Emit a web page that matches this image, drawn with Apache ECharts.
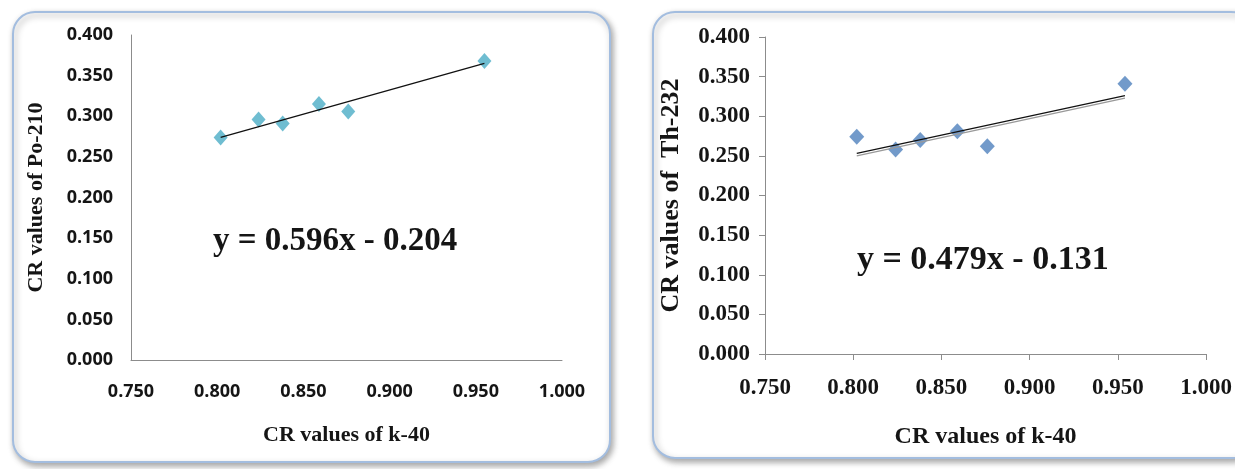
<!DOCTYPE html>
<html>
<head>
<meta charset="utf-8">
<script src="https://cdn.jsdelivr.net/npm/echarts@6/dist/echarts.min.js"></script>
<style>
html,body{margin:0;padding:0;background:#fff;}
#c{width:1235px;height:469px;}
</style>
</head>
<body>
<div id="c"></div>
<script>
// ---- data ----
const k40Left = [0.802, 0.824, 0.838, 0.859, 0.876, 0.955];
const po210   = [0.274, 0.296, 0.291, 0.315, 0.306, 0.368];
const k40Right = [0.802, 0.824, 0.838, 0.859, 0.876, 0.954];
const th232    = [0.274, 0.258, 0.270, 0.281, 0.262, 0.341];
const xTicks = [0.750, 0.800, 0.850, 0.900, 0.950, 1.000];
const yTicks = [0.000, 0.050, 0.100, 0.150, 0.200, 0.250, 0.300, 0.350, 0.400];
const fitLeft  = {slope: 0.596, intercept: -0.204, label: 'y = 0.596x - 0.204'};
const fitRight = {slope: 0.479, intercept: -0.131, label: 'y = 0.479x - 0.131'};
const xTitle = 'CR values of k-40';
const yTitleLeft = 'CR values of Po-210';
const yTitleRight = 'CR values of  Th-232';

function pairs(xs, ys){ return xs.map((x,i)=>[x, ys[i]]); }
function fitLine(xs, f){
  const lo = Math.min(...xs), hi = Math.max(...xs);
  return [[lo, f.slope*lo + f.intercept], [hi, f.slope*hi + f.intercept]];
}

const chart = echarts.init(document.getElementById('c'), null, {renderer:'canvas'});
const sansLbl = {fontFamily:'"Open Sans", "Liberation Sans", sans-serif', fontWeight:'bold', fontSize:18, color:'#151515'};
const serifLbl = {fontFamily:'"Liberation Serif", "DejaVu Serif", serif', fontWeight:'bold', fontSize:23, color:'#151515'};
const titleL = {fontFamily:'"Liberation Serif", serif', fontWeight:'bold', fontSize:22, color:'#151515'};
const titleRx = {fontFamily:'"Liberation Serif", serif', fontWeight:'bold', fontSize:24, color:'#151515'};
const titleRy = {fontFamily:'"Liberation Serif", serif', fontWeight:'bold', fontSize:26, color:'#151515'};

function xAxis(gi, lbl, ticks, gap, ts, margin){
  return {type:'value', gridIndex:gi, min:xTicks[0], max:xTicks[xTicks.length-1], interval:0.05,
    name:xTitle, nameLocation:'middle', nameGap:gap, nameTextStyle:ts,
    axisLine:{show:true, lineStyle:{color:'#8c8c8c', width:1}},
    axisTick:{show:ticks, length:6, inside:false, lineStyle:{color:'#8c8c8c'}},
    splitLine:{show:false},
    axisLabel:Object.assign({margin:margin, formatter:v=>v.toFixed(3)}, lbl)};
}
function yAxis(gi, lbl, ticks, name, gap, ts, margin){
  return {type:'value', gridIndex:gi, min:yTicks[0], max:yTicks[yTicks.length-1], interval:0.05,
    name:name, nameLocation:'middle', nameGap:gap, nameTextStyle:ts,
    axisLine:{show:true, lineStyle:{color:'#8c8c8c', width:1}},
    axisTick:{show:ticks, length:6, inside:false, lineStyle:{color:'#8c8c8c'}},
    splitLine:{show:false},
    axisLabel:Object.assign({margin:margin, formatter:v=>v.toFixed(3)}, lbl)};
}

chart.setOption({
  animation:false,
  backgroundColor:'#fff',
  graphic:[
    {type:'rect', z:-10, shape:{x:13, y:12, width:597, height:450, r:22},
      style:{fill:'#fff', stroke:'#a3bddf', lineWidth:2, shadowBlur:6, shadowOffsetX:2, shadowOffsetY:3, shadowColor:'rgba(0,0,0,0.35)'}},
    {type:'rect', z:-10, shape:{x:653, y:12, width:600, height:446, r:22},
      style:{fill:'#fff', stroke:'#a3bddf', lineWidth:2, shadowBlur:6, shadowOffsetX:2, shadowOffsetY:3, shadowColor:'rgba(0,0,0,0.35)'}},
    {type:'text', z:10, left:213, top:225,
      style:{text:fitLeft.label, fontFamily:'"Liberation Serif", serif', fontWeight:'bold', fontSize:33, fill:'#151515'}},
    {type:'text', z:10, left:857, top:243,
      style:{text:fitRight.label, fontFamily:'"Liberation Serif", serif', fontWeight:'bold', fontSize:34, fill:'#151515'}}
  ],
  grid:[
    {left:131, top:35, width:431, height:325},
    {left:765, top:37, width:443, height:317}
  ],
  xAxis:[xAxis(0, sansLbl, false, 64, titleL, 23), xAxis(1, serifLbl, true, 71, titleRx, 23)],
  yAxis:[yAxis(0, sansLbl, false, yTitleLeft, 84, titleL, 18), yAxis(1, serifLbl, true, yTitleRight, 81, titleRy, 15)],
  series:[
    {type:'line', xAxisIndex:0, yAxisIndex:0, data:fitLine(k40Left, fitLeft), symbol:'none',
      lineStyle:{color:'#111', width:1.3}, z:3},
    {type:'scatter', xAxisIndex:0, yAxisIndex:0, data:pairs(k40Left, po210), symbol:'diamond', symbolSize:[14,16],
      itemStyle:{color:'#4bacc6'}, z:2},
    {type:'line', xAxisIndex:1, yAxisIndex:1, data:fitLine(k40Right, fitRight), symbol:'none',
      lineStyle:{color:'#111', width:1.3, shadowColor:'#999', shadowOffsetY:2.5, shadowBlur:0.5}, z:3},
    {type:'scatter', xAxisIndex:1, yAxisIndex:1, data:pairs(k40Right, th232), symbol:'diamond', symbolSize:[15,16],
      itemStyle:{color:'#4f81bd'}, z:2}
  ]
});
</script>
</body>
</html>
